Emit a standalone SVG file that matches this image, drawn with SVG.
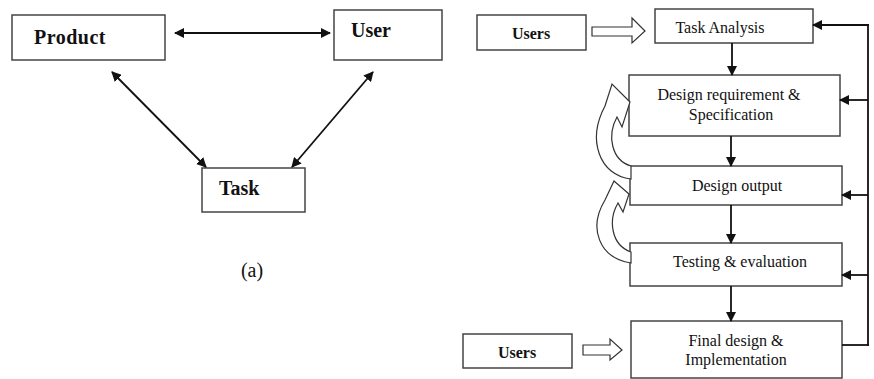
<svg xmlns="http://www.w3.org/2000/svg" width="874" height="379" viewBox="0 0 874 379">
<style>
.box{fill:#fff;stroke:#444;stroke-width:1.5}
.bt{font-family:"Liberation Serif",serif;font-weight:bold;font-size:20px;fill:#111}
.ub{font-family:"Liberation Serif",serif;font-weight:bold;font-size:16px;fill:#111}
.t{font-family:"Liberation Serif",serif;font-size:16px;fill:#111;text-anchor:middle}
.ln{stroke:#111;stroke-width:1.8;fill:none}
.hol{fill:#fff;stroke:#333;stroke-width:1.2}
</style>
<defs>
<marker id="ah" markerWidth="10" markerHeight="10" refX="9" refY="5" orient="auto-start-reverse" markerUnits="userSpaceOnUse">
<path d="M0,0 L10,5 L0,10 Z" fill="#111"/>
</marker>
</defs>
<g id="product"><rect class="box" x="12" y="15" width="153" height="45"/><text class="bt" x="34" y="44" letter-spacing="0.5">Product</text></g>
<g id="user"><rect class="box" x="334" y="10" width="108" height="50"/><text class="bt" x="351" y="37">User</text></g>
<g id="task"><rect class="box" x="202" y="168" width="103" height="44"/><text class="bt" x="219" y="195">Task</text></g>
<text id="label-a" x="252" y="277" font-family="Liberation Serif,serif" font-size="20" text-anchor="middle" fill="#111">(a)</text>

<g id="users1"><rect class="box" x="477" y="15" width="109" height="35"/><text class="ub" x="531" y="39" text-anchor="middle">Users</text></g>
<g id="users2"><rect class="box" x="463" y="334" width="109" height="34"/><text class="ub" x="517" y="358" text-anchor="middle">Users</text></g>
<g id="taskanalysis"><rect class="box" x="655" y="9" width="158" height="34"/><text class="t" x="720" y="33">Task Analysis</text></g>
<g id="designreq"><rect class="box" x="629" y="75" width="211" height="61"/><text class="t" x="729" y="100">Design requirement &amp;</text><text class="t" x="731" y="120">Specification</text></g>
<g id="designout"><rect class="box" x="630" y="166" width="212" height="39"/><text class="t" x="737" y="191">Design output</text></g>
<g id="testing"><rect class="box" x="630" y="243" width="212" height="43"/><text class="t" x="740" y="267">Testing &amp; evaluation</text></g>
<g id="final"><rect class="box" x="631" y="321" width="211" height="57"/><text class="t" x="736" y="346">Final design &amp;</text><text class="t" x="736" y="365">Implementation</text></g>

<g id="connectors">
<line class="ln" x1="175" y1="33" x2="330" y2="33" marker-start="url(#ah)" marker-end="url(#ah)"/>
<line class="ln" x1="112" y1="72" x2="206" y2="167" marker-start="url(#ah)" marker-end="url(#ah)"/>
<line class="ln" x1="373" y1="72" x2="292" y2="167" marker-start="url(#ah)" marker-end="url(#ah)"/>

<path class="hol" d="M592,27 L632,27 L632,18 L645,31 L632,43 L632,36 L592,36 Z"/>
<path class="hol" d="M583,345 L610,345 L610,339 L622,350 L610,360 L610,355 L583,355 Z"/>

<line class="ln" x1="732" y1="43" x2="732" y2="75" marker-end="url(#ah)"/>
<line class="ln" x1="731" y1="136" x2="731" y2="166" marker-end="url(#ah)"/>
<line class="ln" x1="731" y1="205" x2="731" y2="243" marker-end="url(#ah)"/>
<line class="ln" x1="731" y1="286" x2="731" y2="321" marker-end="url(#ah)"/>

<line class="ln" x1="868" y1="24" x2="868" y2="346" stroke-width="2.2"/>
<line class="ln" x1="869" y1="25" x2="813" y2="25" marker-end="url(#ah)"/>
<line class="ln" x1="868" y1="100" x2="840" y2="100" marker-end="url(#ah)"/>
<line class="ln" x1="868" y1="195" x2="842" y2="195" marker-end="url(#ah)"/>
<line class="ln" x1="868" y1="275" x2="842" y2="275" marker-end="url(#ah)"/>
<line class="ln" x1="842" y1="345" x2="869" y2="345"/>

<path class="hol" d="M631,179 C599,175 587,140 605,106 L612,84 L630,102 L622,127 L617,117 C607,135 611,160 631,166 Z"/>
<path class="hol" d="M631,263 C599,258 588,228 605,200 L614,181 L629,194 L623,212 L618,203 C608,220 611,245 631,252 Z"/>
</g>
</svg>
